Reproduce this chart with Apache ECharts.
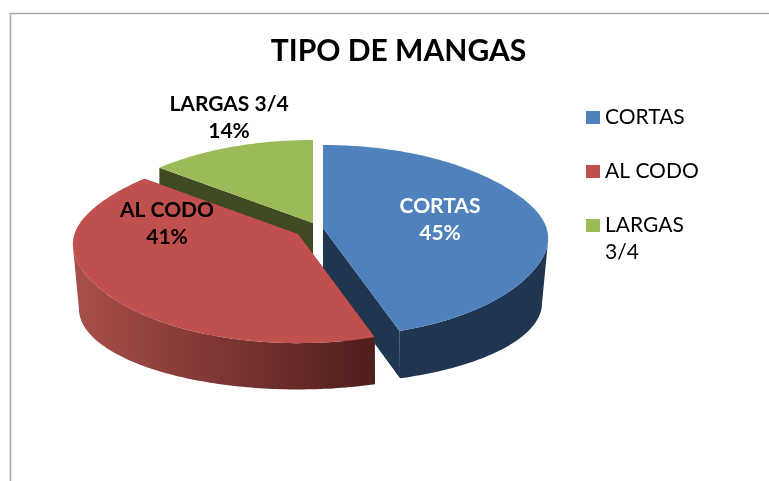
<!DOCTYPE html>
<html>
<head>
<meta charset="utf-8">
<style>html,body{margin:0;padding:0;background:#fff}#c{width:769px;height:481px}</style>
<script src="https://cdn.jsdelivr.net/npm/echarts@6/dist/echarts.min.js"></script>
</head>
<body>
<div id="c"></div>
<script>
// Data
const categories = ['CORTAS', 'AL CODO', 'LARGAS 3/4'];
const values = [45, 41, 14];
const title = 'TIPO DE MANGAS';

// Style & layout (not data)
const colors = ['#4f81bd', '#c0504d', '#9bbb59'];
const sideColors = ['#1f3550', '#6f3030', '#3f4a22'];
const labelColors = ['#ffffff', '#000000', '#000000'];
const apex = [[323, 228], [298, 234], [313, 223]];     // exploded slice tips
const labelAt = [[440, 220], [167, 224], [229, 118]];
const stack = [2, 3, 1];                                // painter's order
const R = 223.5, RY = 94.3, K = 0.136, DEPTH = 45;
const LOWER_R = 217, LOWER_RY = 79, LOWER_CY = 64;      // rim of the underside
const FONT = 'Lato, Carlito, "Open Sans", sans-serif';

const total = values.reduce((a, b) => a + b, 0);
const TANGENT = Math.acos(-K) * 180 / Math.PI;          // silhouette angle of the rim
function project(i, deg, radius, lower) {
  if (radius === 0) return [apex[i][0], apex[i][1] + (lower ? DEPTH : 0)];
  const t = deg * Math.PI / 180;
  const u = Math.sin(t), v = Math.cos(t);
  const w = 1 + K * v;
  if (lower) return [apex[i][0] + LOWER_R * u / w, apex[i][1] + LOWER_CY - LOWER_RY * v / w];
  const bulge = 0.965 + 0.035 * Math.pow(u, 8);
  return [apex[i][0] + R * bulge * u / w, apex[i][1] - RY * v / w];
}
function arc(i, a0, a1, lower) {
  const pts = [];
  const n = Math.max(2, Math.ceil(a1 - a0));
  for (let k = 0; k <= n; k++) pts.push(project(i, a0 + (a1 - a0) * k / n, 1, lower));
  return pts;
}
function renderSlice(i) {
  return function (params, api) {
    const before = values.slice(0, i).reduce((a, b) => a + b, 0);
    const a0 = before / total * 360;
    const a1 = a0 + api.value(0) / total * 360;
    const z = stack[i] * 10;
    const sideFill = i === 1
      ? new echarts.graphic.LinearGradient(0, 0, 1, 0, [
          { offset: 0, color: '#a94f4b' }, { offset: 0.5, color: '#7d3533' }, { offset: 1, color: '#4e1e1d' }])
      : sideColors[i];
    const wall = (a) => [project(i, a, 0, false), project(i, a, 0, true), project(i, a, 1, true), project(i, a, 1, false)];
    const top = [project(i, a0, 0, false)].concat(arc(i, a0, a1, false));
    // outer wall: only the part of the rim that faces the viewer
    const f0 = Math.max(a0, TANGENT), f1 = Math.min(a1, 360 - TANGENT);
    const children = [
      { type: 'polygon', z2: z, shape: { points: wall(a0) }, style: { fill: sideColors[i] }, silent: true },
      { type: 'polygon', z2: z, shape: { points: wall(a1) }, style: { fill: sideColors[i] }, silent: true }
    ];
    if (f1 > f0) {
      const outer = arc(i, f0, f1, false).concat(arc(i, f0, f1, true).reverse());
      children.push({ type: 'polygon', z2: z + 1, shape: { points: outer }, style: { fill: sideFill }, silent: true });
    }
    const lines = categories[i] + '\n' + Math.round(api.value(0) / total * 100) + '%';
    children.push(
      { type: 'polygon', z2: z + 2, shape: { points: top }, style: { fill: colors[i] }, silent: true },
      { type: 'text', z2: 100, silent: true, style: {
          text: lines, x: labelAt[i][0], y: labelAt[i][1], align: 'center', verticalAlign: 'middle',
          fill: labelColors[i], fontFamily: FONT, fontWeight: 'bold', fontSize: 21, lineHeight: 27 } }
    );
    return { type: 'group', children };
  };
}

const chart = echarts.init(document.getElementById('c'), null, { renderer: 'canvas' });
chart.setOption({
  animation: false,
  backgroundColor: '#ffffff',
  title: {
    text: title, left: 393.5, top: 31, textAlign: 'center',
    textStyle: { fontFamily: FONT, fontWeight: 'bold', fontSize: 30, color: '#000000' }
  },
  legend: {
    orient: 'vertical', left: 581, top: 72, icon: 'rect', itemWidth: 14, itemHeight: 13,
    itemGap: -27, selectedMode: false,
    textStyle: { fontFamily: FONT, fontSize: 21, color: '#000000', lineHeight: 27 },
    formatter: n => {
      const parts = n.split(' 3/4');
      return '\n' + parts[0] + '\n' + (parts.length > 1 ? '3/4' : ' ');
    },
    data: categories
  },
  graphic: [{
    type: 'rect', silent: true, z: -1,
    shape: { x: 10.5, y: 13.5, width: 900, height: 600 },
    style: { fill: 'none', stroke: '#a6a6a6', lineWidth: 1.5 }
  }],
  series: categories.map((name, i) => ({
    type: 'custom', name, coordinateSystem: 'none',
    itemStyle: { color: colors[i] },
    renderItem: renderSlice(i),
    data: [{ name, value: [values[i]] }]
  }))
});
</script>
</body>
</html>
